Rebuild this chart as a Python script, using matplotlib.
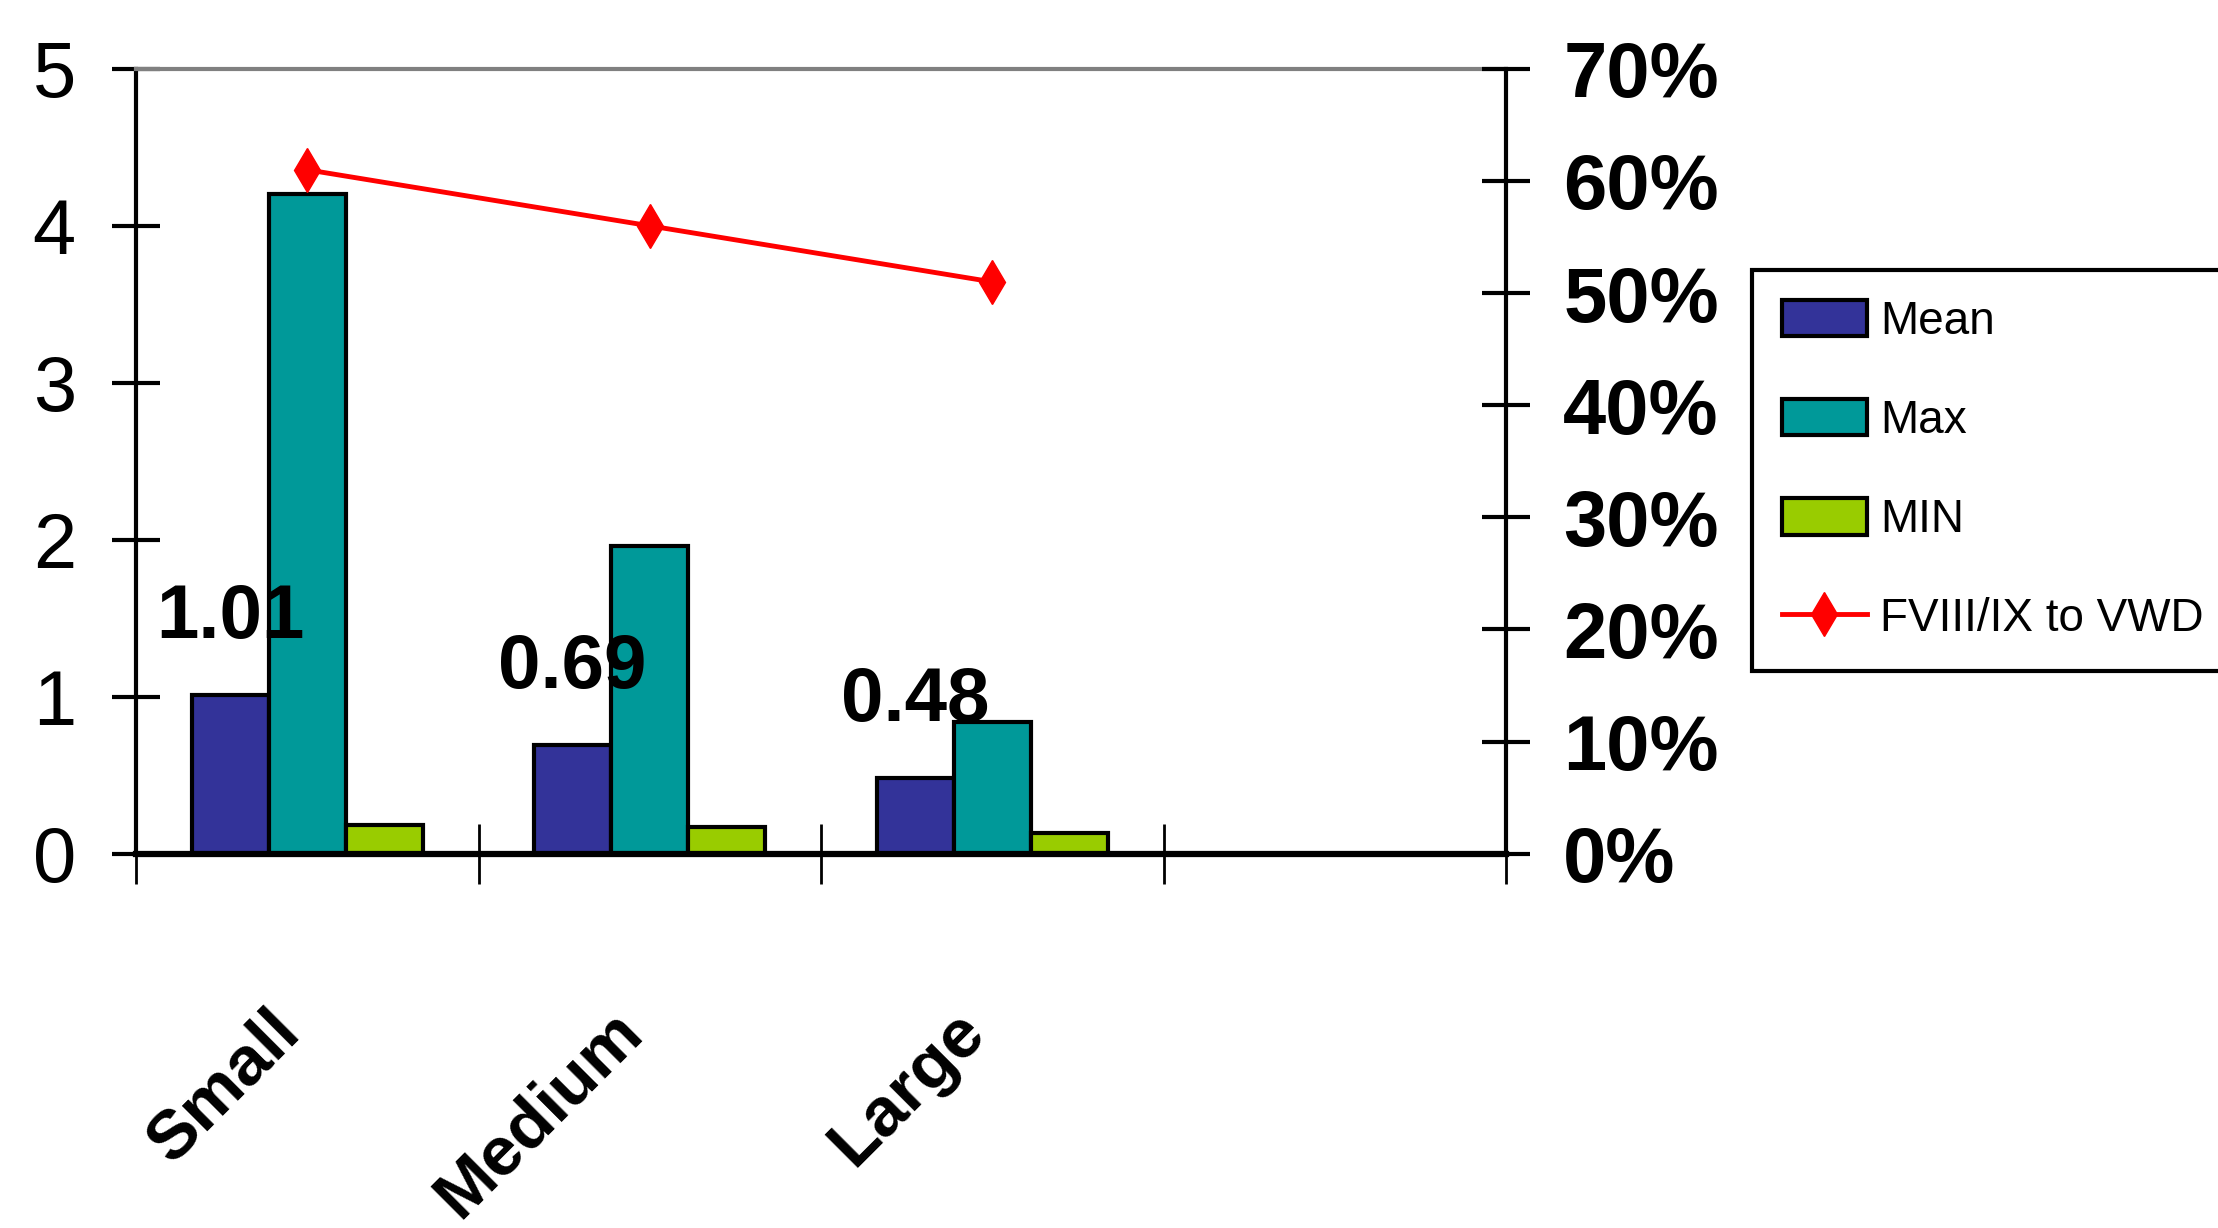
import numpy as np
import matplotlib
matplotlib.use("Agg")
import matplotlib.pyplot as plt
import matplotlib.transforms as mtransforms
from matplotlib import font_manager
from matplotlib.ticker import PercentFormatter

# data
categories = ["Small", "Medium", "Large", ""]
mean_vals = [1.01, 0.69, 0.48]
max_vals = [4.20, 1.96, 0.84]
min_vals = [0.18, 0.17, 0.13]
ratio_vals = [0.61, 0.56, 0.51]   # FVIII/IX to VWD, right axis

# narrow sans if we have it
names = {f.name for f in font_manager.fontManager.ttflist}
narrow = "Liberation Sans Narrow" in names
plt.rcParams["font.family"] = "Liberation Sans Narrow" if narrow else "Liberation Sans"
k = 1.12 if narrow else 1.0   # narrow face can run a bit larger

fig = plt.figure(figsize=(22.18, 12.28), dpi=100)
ax = fig.add_axes([136 / 2218, 1 - 853.6 / 1228, 1370 / 2218, 784.7 / 1228])
ax2 = ax.twinx()

x = np.arange(len(mean_vals))
w = 0.225
bar_kw = dict(edgecolor="black", linewidth=3, zorder=2)
b1 = ax.bar(x - w, mean_vals, w, color="#333399", label="Mean", **bar_kw)
b2 = ax.bar(x, max_vals, w, color="#009999", label="Max", **bar_kw)
b3 = ax.bar(x + w, min_vals, w, color="#99CC00", label="MIN", **bar_kw)

# value labels over the mean bars
for xi, v in zip(x, mean_vals):
    ax.annotate(f"{v:.2f}", (xi - w, v), xytext=(0, 57), textcoords="offset pixels",
                ha="center", va="baseline", fontsize=55 * k, fontweight="bold")

ln, = ax2.plot(x, ratio_vals, color="#FF0000", lw=3.5, marker="d", ms=22,
               mec="#FF0000", mfc="#FF0000", label="FVIII/IX to VWD")

ax.set_xlim(-0.5, len(categories) - 0.5)
ax.set_ylim(0, 5)
ax2.set_ylim(0, 0.7)

# left axis
ax.set_yticks(range(6))
ax.tick_params(axis="y", direction="inout", length=34.6, width=3, pad=26, labelsize=56 * k)
ax.set_xticks(np.arange(len(categories) + 1) - 0.5)
ax.set_xticklabels([])
ax.tick_params(axis="x", direction="inout", length=43, width=2)

# right axis
ax2.set_yticks(np.arange(0, 0.71, 0.1))
ax2.yaxis.set_major_formatter(PercentFormatter(xmax=1, decimals=0))
ax2.tick_params(axis="y", direction="inout", length=34.6, width=3, pad=24, labelsize=56 * k)
for lab in ax2.get_yticklabels():
    lab.set_fontweight("bold")

for s in ["top", "left", "bottom"]:
    ax2.spines[s].set_visible(False)
ax2.spines["right"].set_linewidth(3)
ax.spines["right"].set_visible(False)
ax.spines["left"].set_linewidth(3)
ax.spines["bottom"].set_linewidth(4.5)
ax.spines["top"].set_color("#808080")
ax.spines["top"].set_linewidth(3)

# rotated category names
offset = mtransforms.ScaledTranslation(-0.40, -1.45, fig.dpi_scale_trans)
for i, cat in enumerate(categories):
    ax.text(i, 0, cat, transform=ax.get_xaxis_transform() + offset,
            rotation=45, rotation_mode="anchor", ha="right", va="top",
            fontsize=50 * k, fontweight="bold")

leg = fig.legend([b1, b2, b3, ln], ["Mean", "Max", "MIN", "FVIII/IX to VWD"],
                 loc="upper left", bbox_to_anchor=(1752 / 2218, 1 - 270 / 1228),
                 borderaxespad=0, fontsize=33 * k, fancybox=False, edgecolor="black",
                 framealpha=1, borderpad=0.65, handlelength=1.85, handleheight=0.85,
                 handletextpad=0.3, labelspacing=1.2, numpoints=1)
leg.get_frame().set_linewidth(3)

fig.savefig("out.png", dpi=100, facecolor="white")
